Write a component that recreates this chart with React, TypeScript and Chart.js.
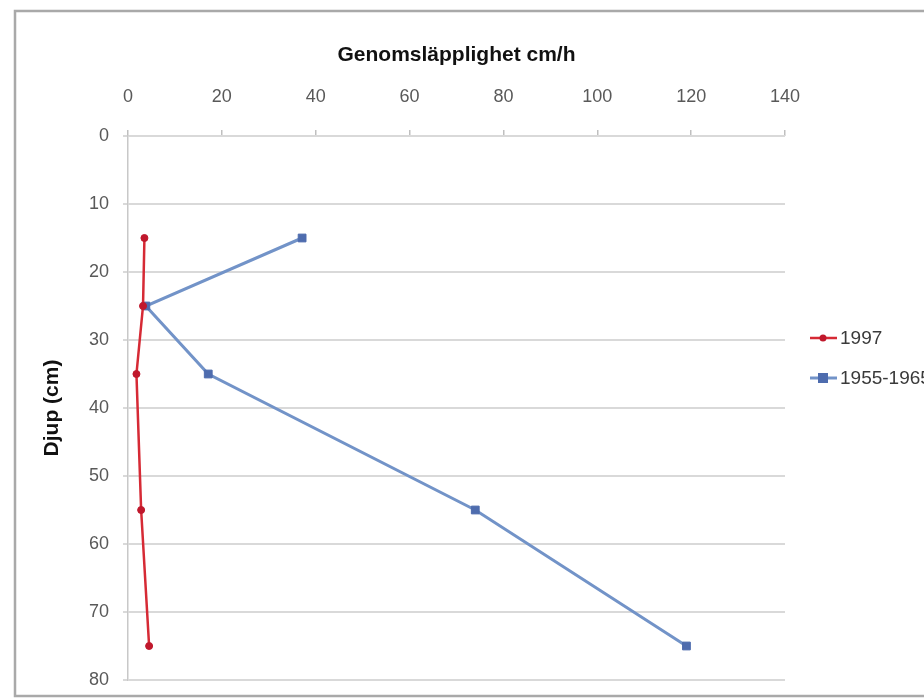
import React, { useEffect, useRef } from "react";
import { Chart, registerables } from "chart.js";

Chart.register(...registerables);

const depths = [15, 25, 35, 55, 75];
const series1997 = [3.5, 3.2, 1.8, 2.8, 4.5];
const series1955 = [37.1, 3.8, 17.1, 74, 119];
const seriesLabels = ["1997", "1955-1965"];
const xTitle = "Genomsläpplighet cm/h";
const yTitle = "Djup (cm)";

const FONT = "'Liberation Sans', Arial, sans-serif";

const framePlugin = {
  id: "frame",
  beforeDraw(chart: any) {
    const ctx = chart.ctx;
    ctx.save();
    ctx.fillStyle = "#ffffff";
    ctx.fillRect(0, 0, chart.width, chart.height);
    ctx.strokeStyle = "#a9a9a9";
    ctx.lineWidth = 2.5;
    ctx.strokeRect(15, 11, chart.width + 20, chart.height - 14);
    ctx.restore();
  },
};

const legendPlugin = {
  id: "customLegend",
  afterDraw(chart: any) {
    const ctx = chart.ctx;
    const ys = [338, 378];
    ctx.save();
    chart.data.datasets.forEach((ds: any, i: number) => {
      const y = ys[i];
      ctx.strokeStyle = ds.borderColor;
      ctx.lineWidth = ds.borderWidth;
      ctx.beginPath();
      ctx.moveTo(810, y);
      ctx.lineTo(837, y);
      ctx.stroke();
      ctx.fillStyle = ds.pointBackgroundColor;
      if (ds.pointStyle === "rect") {
        ctx.fillRect(823 - 5, y - 5, 10, 10);
      } else {
        ctx.beginPath();
        ctx.arc(823, y, 3.5, 0, Math.PI * 2);
        ctx.fill();
      }
      ctx.fillStyle = "#3a3a3a";
      ctx.font = `19px ${FONT}`;
      ctx.textBaseline = "middle";
      ctx.textAlign = "left";
      ctx.fillText(ds.label, 840, y + 1);
    });
    ctx.restore();
  },
};

export default function App() {
  const canvasRef = useRef<HTMLCanvasElement | null>(null);

  useEffect(() => {
    if (!canvasRef.current) return;
    const chart = new Chart(canvasRef.current, {
      type: "scatter",
      data: {
        datasets: [
          {
            label: seriesLabels[0],
            data: depths.map((d, i) => ({ x: series1997[i], y: d })),
            showLine: true,
            borderColor: "#d62a35",
            borderWidth: 2.5,
            pointStyle: "circle",
            pointRadius: 3.5,
            pointBackgroundColor: "#c0182c",
            pointBorderColor: "#c0182c",
            pointBorderWidth: 1,
          },
          {
            label: seriesLabels[1],
            data: depths.map((d, i) => ({ x: series1955[i], y: d })),
            showLine: true,
            borderColor: "#7293c8",
            borderWidth: 3,
            pointStyle: "rect",
            pointRadius: 5.5,
            pointBackgroundColor: "#4e6cae",
            pointBorderColor: "#4e6cae",
            pointBorderWidth: 1,
          },
        ],
      },
      options: {
        animation: false,
        responsive: true,
        maintainAspectRatio: false,
        layout: { padding: { left: 0, top: 0, right: 139, bottom: 19 } },
        plugins: {
          legend: { display: false },
          tooltip: { enabled: false },
        },
        scales: {
          x: {
            type: "linear",
            position: "top",
            min: 0,
            max: 140,
            ticks: {
              stepSize: 20,
              color: "#595959",
              font: { family: FONT, size: 18 },
              padding: 22,
            },
            grid: {
              drawOnChartArea: false,
              drawTicks: true,
              tickLength: 6,
              color: "#bfbfbf",
              lineWidth: 1.5,
            },
            border: { display: false },
            title: {
              display: true,
              text: xTitle,
              color: "#111111",
              font: { family: FONT, size: 21, weight: "bold" },
              padding: { top: 43, bottom: 0 },
            },
            afterFit: (scale: any) => {
              scale.height = 136;
              scale.paddingLeft = 0;
              scale.paddingRight = 0;
            },
          },
          y: {
            type: "linear",
            reverse: true,
            min: 0,
            max: 80,
            ticks: {
              stepSize: 10,
              color: "#595959",
              font: { family: FONT, size: 18 },
              padding: 14,
            },
            grid: {
              color: "#d9d9d9",
              lineWidth: 2,
              tickLength: 5,
            },
            border: { display: true, color: "#c8c8c8", width: 1.5 },
            title: {
              display: true,
              text: yTitle,
              color: "#111111",
              font: { family: FONT, size: 21, weight: "bold" },
              padding: { top: 40, bottom: 0 },
            },
            afterFit: (scale: any) => {
              scale.width = 128;
              scale.paddingTop = 0;
              scale.paddingBottom = 0;
            },
          },
        },
      },
      plugins: [framePlugin, legendPlugin],
    });
    return () => chart.destroy();
  }, []);

  return (
    <div style={{ position: "fixed", left: 0, top: 0, width: 924, height: 699, background: "#fff" }}>
      <canvas ref={canvasRef} />
    </div>
  );
}
